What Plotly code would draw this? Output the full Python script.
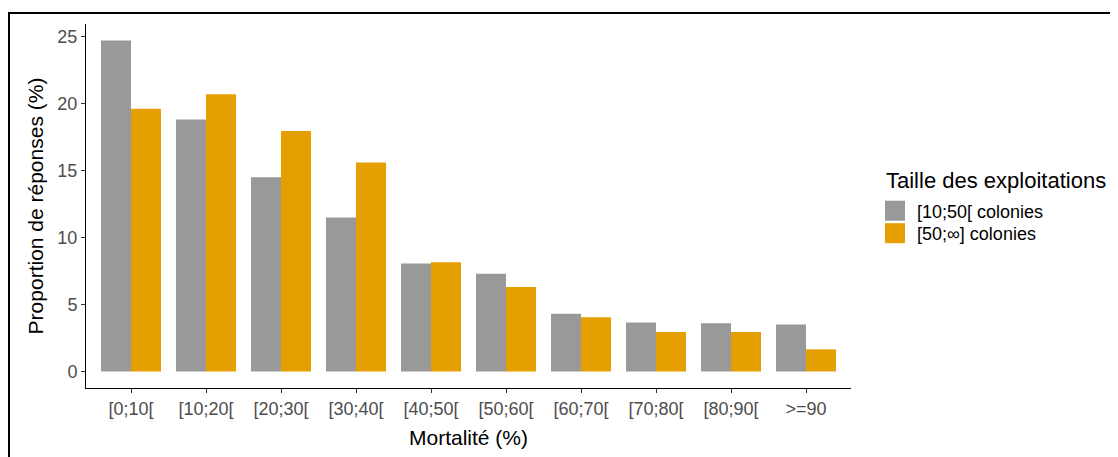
import plotly.graph_objects as go

categories = ["[0;10[", "[10;20[", "[20;30[", "[30;40[", "[40;50[",
              "[50;60[", "[60;70[", "[70;80[", "[80;90[", ">=90"]
small_farms = [24.7, 18.8, 14.5, 11.5, 8.05, 7.3, 4.3, 3.65, 3.6, 3.5]
large_farms = [19.6, 20.7, 17.95, 15.6, 8.15, 6.3, 4.05, 2.95, 2.95, 1.65]
series_names = ["[10;50[ colonies", "[50;\u221e] colonies"]
series_colors = ["#999999", "#E69F00"]
legend_title = "Taille des exploitations"

FONT = "Liberation Sans, Arial, sans-serif"
OFF = 8  # page body margin
W, H = 1118 - OFF, 457 - OFF
# plot area in page pixels
PX0, PX1, PY0, PY1 = 86, 851, 24, 388
pw, ph = PX1 - PX0, PY1 - PY0
L, T = PX0 - OFF, PY0 - OFF
R, B = W - L - pw, H - T - ph


def px(x):
    return (x - PX0) / pw


def py(y):
    return (PY1 - y) / ph


fig = go.Figure()
for name, vals, col in zip(series_names, [small_farms, large_farms], series_colors):
    fig.add_trace(go.Bar(x=categories, y=vals, name=name, marker_color=col,
                         marker_line_width=0, showlegend=False))

ymax = max(small_farms + large_farms)

shapes = [dict(type="rect", xref="paper", yref="paper",
               x0=px(9), x1=1.5, y0=-0.5, y1=py(13),
               line=dict(color="black", width=2), fillcolor="rgba(0,0,0,0)",
               layer="below")]
annotations = [dict(text=legend_title, xref="paper", yref="paper",
                    x=px(884), y=py(180), xanchor="left", yanchor="middle",
                    showarrow=False, font=dict(size=22, color="black"))]
key_top = 200.7
for i, (name, col) in enumerate(zip(series_names, series_colors)):
    y0 = key_top + i * 22.5
    shapes.append(dict(type="rect", xref="paper", yref="paper",
                       x0=px(885), x1=px(905), y0=py(y0 + 20), y1=py(y0),
                       line=dict(width=0), fillcolor=col))
    annotations.append(dict(text=name, xref="paper", yref="paper",
                            x=px(915), y=py(y0 + 11), xanchor="left", yanchor="middle",
                            showarrow=False, font=dict(size=18, color="black")))

fig.update_layout(
    width=W, height=H,
    margin=dict(l=L, r=R, t=T, b=B),
    plot_bgcolor="white", paper_bgcolor="white",
    barmode="group", bargap=0.2, bargroupgap=0,
    font=dict(family=FONT, color="black"),
    showlegend=False,
    xaxis=dict(range=[-0.6, 9.6], showline=True, linecolor="black", linewidth=1,
               ticks="outside", ticklen=4, tickcolor="#333333", automargin=False,
               tickfont=dict(size=18, color="#4D4D4D"),
               title=dict(text="Mortalité (%)", font=dict(size=21), standoff=12),
               showgrid=False, zeroline=False),
    yaxis=dict(range=[-0.05 * ymax, 1.05 * ymax], showline=True, linecolor="black", linewidth=1,
               ticks="outside", ticklen=4, tickcolor="#333333", automargin=False,
               tickvals=[0, 5, 10, 15, 20, 25],
               tickfont=dict(size=18, color="#4D4D4D"),
               title=dict(text="Proportion de réponses (%)", font=dict(size=21), standoff=8),
               showgrid=False, zeroline=False),
    shapes=shapes,
    annotations=annotations,
)
fig.write_html("out.html")
